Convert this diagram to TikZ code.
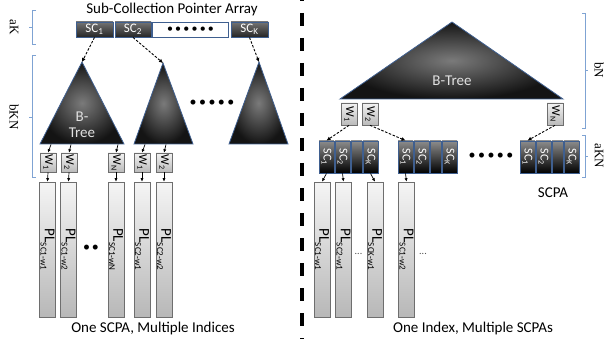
\documentclass[tikz,border=0pt]{standalone}
\usepackage{fontspec}
\setmainfont{Carlito}
\newfontfamily\sidefont{Liberation Serif}
\usetikzlibrary{arrows.meta}
\definecolor{frameblue}{HTML}{3F5F8F}
\definecolor{braceblue}{HTML}{7FA3D3}
\definecolor{barline}{HTML}{6E6E6E}
\newcommand{\fs}[1]{\fontsize{#1}{#1}\selectfont}
\newcommand{\lowsub}[1]{\raisebox{-0.28em}{\fs{9}#1}}
\begin{document}
\begin{tikzpicture}[x=1pt,y=-1pt,
  sccell/.style={draw=frameblue, line width=0.9pt, top color=black!55, bottom color=black!85,
    minimum height=15pt, inner sep=0pt, text=white, font=\fs{13}},
  blankcell/.style={draw=frameblue, line width=0.9pt, fill=white,
    minimum height=15pt, inner sep=0pt, font=\fs{12}},
  rcell/.style={draw=frameblue, line width=0.9pt, top color=black!45, bottom color=black,
    minimum height=32pt, inner sep=0pt},
  tree/.style={draw=frameblue, line width=0.8pt, inner color=black!52, outer color=black!92},
  treetext/.style={text=black!12, font=\fs{15}, align=center, inner sep=0pt},
  wbox/.style={draw=barline, line width=0.6pt, top color=black!5, bottom color=black!27,
    minimum width=16pt, inner sep=0pt},
  plbar/.style={draw=barline, line width=0.6pt, top color=black!4, bottom color=black!28,
    minimum width=16pt, minimum height=135pt, inner sep=0pt},
  vtext/.style={rotate=-90, inner sep=0pt},
  wtext/.style={vtext, font=\fs{12}},
  pltext/.style={vtext, font=\fs{15}},
  sctext/.style={vtext, font=\fs{12}, text=white},
  ptr/.style={black, line width=0.9pt, dash pattern=on 2.5pt off 1.6pt,
    -{Latex[length=4pt,width=4pt]}},
  tip/.style={black, line width=0.7pt, -{Latex[length=3.5pt,width=3.2pt]}},
  brace/.style={braceblue, line width=0.8pt},
  sidelabel/.style={rotate=-90, font=\sidefont\fs{13}, inner sep=0pt},
  caption/.style={font=\fs{15}, inner sep=0pt},
  dots/.style={font=\fs{14}, inner sep=0pt}
]
\useasboundingbox (0,0) rectangle (607,339);

% ---------- left half: one SCPA, multiple indices ----------
\node[caption] (title) at (172,10) {Sub-Collection Pointer Array};
\node[sccell, minimum width=37pt] (sc1) at (94.5,29.5) {SC\textsubscript{1}};
\node[sccell, minimum width=36pt] (sc2) at (133,29.5) {SC\textsubscript{2}};
\node[blankcell, minimum width=76pt] (scmid) at (190.5,29.5) {•\hspace{2.2pt}•\hspace{2.2pt}•\hspace{2.2pt}•\hspace{2.2pt}•\hspace{2.2pt}•};
\node[sccell, minimum width=37pt] (sck) at (249.5,29.5) {SC\textsubscript{K}};

% braces and size labels
\draw[brace] (36,10) -- (32,10) -- (32,44) -- (36,44) (32,27) -- (29,27);
\node[sidelabel] (lak) at (14,27) {aK};
\draw[brace] (36,55) -- (32,55) -- (32,177) -- (36,177) (32,117) -- (29,117);
\node[sidelabel] (lbkn) at (14,117) {bKN};

% one B-tree per sub-collection
\coordinate (ta) at (82,62);
\coordinate (tb) at (163,63);
\coordinate (tc) at (259,62);
\path[tree] (40,144) -- (ta) -- (124,144) -- cycle;
\path[tree] (134,144) -- (tb) -- (193,144) -- cycle;
\path[tree] (229,144) -- (tc) -- (288,144) -- cycle;
\node[treetext] (bt1) at (82,125) {B-\\[1pt]Tree};
\node[dots] (treedots) at (212,103) {•\hspace{2.5pt}•\hspace{2.5pt}•\hspace{2.5pt}•\hspace{2.5pt}•};

\draw[ptr] (sc1.south) -- (ta);
\draw[ptr] (sc2.south) -- (tb);
\draw[ptr] (sck.south) -- (tc);

% word leaves
\node[wbox, minimum height=19pt] (lw1) at (48,162.5) {};
\node[wbox, minimum height=19pt] (lw2) at (69,162.5) {};
\node[wbox, minimum height=19pt] (lwn) at (116,162.5) {};
\node[wbox, minimum height=19pt] (lw4) at (142,162.5) {};
\node[wbox, minimum height=19pt] (lw5) at (164,162.5) {};
\node[wtext] (lw1t) at (lw1) {W\textsubscript{1}};
\node[wtext] (lw2t) at (lw2) {W\textsubscript{2}};
\node[wtext] (lwnt) at (lwn) {W\textsubscript{N}};
\node[wtext] (lw4t) at (lw4) {W\textsubscript{1}};
\node[wtext] (lw5t) at (lw5) {W\textsubscript{2}};

\coordinate (lb1) at (51,144.5);
\coordinate (lb2) at (71,144.5);
\coordinate (lbn) at (118,144.5);
\coordinate (lb4) at (145,144.5);
\coordinate (lb5) at (166,144.5);
\draw[tip] (lb1) -- (lw1.north);
\draw[tip] (lb2) -- (lw2.north);
\draw[tip] (lbn) -- (lwn.north);
\draw[tip] (lb4) -- (lw4.north);
\draw[tip] (lb5) -- (lw5.north);

% posting lists
\node[plbar] (lp1) at (47.5,249.5) {};
\node[plbar] (lp2) at (68.5,249.5) {};
\node[plbar] (lp3) at (116,249.5) {};
\node[plbar] (lp4) at (142,249.5) {};
\node[plbar] (lp5) at (164,249.5) {};
\node[pltext] (lp1t) at (lp1) {PL\lowsub{SC1-w1}};
\node[pltext] (lp2t) at (lp2) {PL\lowsub{SC1-w2}};
\node[pltext] (lp3t) at (lp3) {PL\lowsub{SC1-wN}};
\node[pltext] (lp4t) at (lp4) {PL\lowsub{SC2-w1}};
\node[pltext] (lp5t) at (lp5) {PL\lowsub{SC2-w2}};
\node[dots] (pldots) at (91,248) {•\hspace{2pt}•};

\draw[tip] (lw1.south) -- (lp1.north);
\draw[tip] (lw2.south) -- (lp2.north);
\draw[tip] (lwn.south) -- (lp3.north);
\draw[tip] (lw4.south) -- (lp4.north);
\draw[tip] (lw5.south) -- (lp5.north);

\node[caption] (capl) at (153,328) {One SCPA, Multiple Indices};

% ---------- divider ----------
\coordinate (divtop) at (302,0);
\coordinate (divbot) at (302,339);
\draw[black, line width=4pt, dash pattern=on 13pt off 12pt, dash phase=12pt] (divtop) -- (divbot);

% ---------- right half: one index, multiple SCPAs ----------
\coordinate (tr) at (452,22);
\path[tree] (340,99) -- (tr) -- (563,99) -- cycle;
\node[treetext] (bt2) at (452,81) {B-Tree};

\draw[brace] (582,13) -- (585,13) -- (585,128) -- (582,128) (585,70) -- (588,70);
\node[sidelabel] (rbn) at (599,70) {bN};
\draw[brace] (582,135) -- (585,135) -- (585,177) -- (582,177) (585,156) -- (588,156);
\node[sidelabel] (rakn) at (599,156) {aKN};

\node[wbox, minimum height=22pt] (rw1) at (349,114) {};
\node[wbox, minimum height=22pt] (rw2) at (370,114) {};
\node[wbox, minimum height=22pt] (rwn) at (555,114) {};
\node[wtext] (rw1t) at (rw1) {W\textsubscript{1}};
\node[wtext] (rw2t) at (rw2) {W\textsubscript{2}};
\node[wtext] (rwnt) at (rwn) {W\textsubscript{N}};

% one SCPA per word
\foreach \g/\dx in {a/0, b/79, c/201}{
  \node[rcell, minimum width=15pt] (g\g1) at (326.5+\dx,157) {};
  \node[rcell, minimum width=15pt] (g\g2) at (342.5+\dx,157) {};
  \node[rcell, minimum width=11pt] (g\g3) at (356.5+\dx,157) {};
  \node[rcell, minimum width=15pt] (g\g4) at (370.5+\dx,157) {};
  \node[sctext] (g\g1t) at (g\g1) {SC\textsubscript{1}};
  \node[sctext] (g\g2t) at (g\g2) {SC\textsubscript{2}};
  \node[sctext] (g\g4t) at (g\g4) {SC\textsubscript{K}};
}
\node[dots] (scpadots) at (491,156) {•\hspace{2.5pt}•\hspace{2.5pt}•\hspace{2.5pt}•\hspace{2.5pt}•};
\node[caption] (scpa) at (553,193) {SCPA};

\draw[ptr] (rw1.south) -- (ga1.north);
\draw[ptr] (rw2.south) -- (gb1.north);
\draw[ptr] (rwn.south) -- (gc1.north);

\node[plbar] (rp1) at (322,249.5) {};
\node[plbar] (rp2) at (343.5,249.5) {};
\node[plbar] (rp3) at (375,249.5) {};
\node[plbar] (rp4) at (406.5,249.5) {};
\node[pltext] (rp1t) at (rp1) {PL\lowsub{SC1-w1}};
\node[pltext] (rp2t) at (rp2) {PL\lowsub{SC2-w1}};
\node[pltext] (rp3t) at (rp3) {PL\lowsub{SCK-w1}};
\node[pltext] (rp4t) at (rp4) {PL\lowsub{SC1-w2}};
\node[font=\fs{10}, text=black!70, inner sep=0pt] (rdots1) at (358.5,254) {...};
\node[font=\fs{10}, text=black!70, inner sep=0pt] (rdots2) at (423,254) {...};

\draw[tip] (ga1.south) -- (rp1.north);
\draw[tip] (ga2.south) -- (rp2.north);
\draw[tip] (ga4.south) -- (rp3.north);
\draw[tip] (gb1.south) -- (rp4.north);

\node[caption] (capr) at (473,328) {One Index, Multiple SCPAs};
\end{tikzpicture}
\end{document}
